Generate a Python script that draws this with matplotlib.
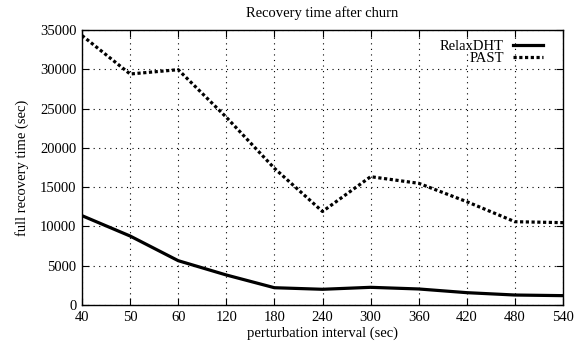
import matplotlib
matplotlib.use("Agg")
import matplotlib.pyplot as plt

intervals = ["40", "50", "60", "120", "180", "240", "300", "360", "420", "480", "540"]
relaxdht = [11370, 8780, 5640, 3820, 2200, 2000, 2250, 2040, 1570, 1270, 1190]
past = [34300, 29400, 29950, 23900, 17400, 11900, 16330, 15490, 13150, 10600, 10480]

plt.rcParams['font.family'] = ['Liberation Serif', 'DejaVu Serif']
fs = 10.5

fig = plt.figure(figsize=(5.75, 3.49), dpi=100)
ax = fig.add_axes([82/575, 1-305/349, (563-82)/575, (305-30)/349])

x = list(range(len(intervals)))
ax.plot(x, relaxdht, color='black', lw=2.3, label='RelaxDHT', solid_joinstyle='round')
ax.plot(x, past, color='black', lw=2.3, linestyle=(0, (1, 0.8)), dash_capstyle='butt', label='PAST')

ax.set_xlim(0, len(intervals)-1)
ax.set_ylim(0, 35000)
ax.set_xticks(x)
ax.set_xticklabels(intervals, fontsize=fs)
ax.set_yticks(range(0, 35001, 5000))
ax.tick_params(axis='both', direction='in', top=True, right=True, length=5, width=0.8, labelsize=fs, pad=4)
ax.grid(True, color='black', linestyle=(0, (1, 4)), lw=0.8)
for s in ax.spines.values():
    s.set_linewidth(1.0)

ax.set_title('Recovery time after churn', fontsize=fs, pad=9)
ax.set_xlabel('perturbation interval (sec)', fontsize=fs, labelpad=2)
ax.set_ylabel('full recovery time (sec)', fontsize=fs, labelpad=8)

leg = ax.legend(loc='upper right', frameon=False, markerfirst=False, fontsize=fs,
                handlelength=2.1, handletextpad=0.6, labelspacing=-0.1,
                borderaxespad=0.3, bbox_to_anchor=(0.98, 1.0))
for t in leg.get_texts():
    t.set_ha('right')

fig.savefig('out.png', dpi=100)
